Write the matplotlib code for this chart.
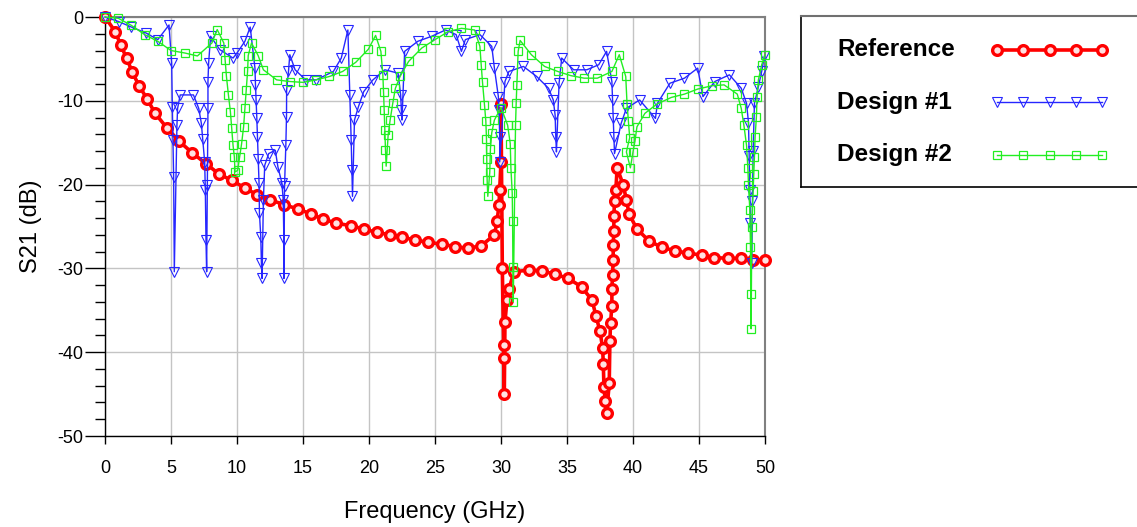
import numpy as np
import matplotlib
matplotlib.use("Agg")
import matplotlib.pyplot as plt

plt.rcParams['font.family'] = ['Liberation Sans', 'DejaVu Sans']
plt.rcParams['axes.unicode_minus'] = False

# ---------------- data ----------------
freq_ref = [0, 0.78, 1.2, 1.64, 2.07, 2.58, 3.2, 3.8, 4.67, 5.6, 6.6, 7.65, 8.6, 9.6,
            10.6, 11.5, 12.5, 13.56, 14.6, 15.6, 16.5, 17.5, 18.6, 19.6, 20.6, 21.6,
            22.5, 23.5, 24.5, 25.5, 26.5, 27.5, 28.5, 29.5, 29.7, 29.85, 29.9, 30.0,
            30.0, 30.1, 30.2, 30.2, 30.25, 30.3, 30.45, 30.6, 31.0, 32.1, 33.1, 34.1,
            35.1, 36.1, 36.9, 37.2, 37.5, 37.7, 37.75, 37.8, 37.9, 38.0, 38.2, 38.25,
            38.3, 38.4, 38.4, 38.45, 38.5, 38.5, 38.55, 38.55, 38.6, 38.7, 38.8, 39.25,
            39.5, 39.7, 40.3, 41.2, 42.2, 43.2, 44.2, 45.2, 46.1, 47.2, 48.2, 49.1, 50.0]
s21_ref = [0, -1.75, -3.4, -4.9, -6.6, -8.2, -9.8, -11.5, -13.2, -14.8, -16.2, -17.5, -18.7, -19.5,
           -20.4, -21.2, -21.8, -22.4, -22.9, -23.5, -24.1, -24.6, -24.9, -25.3, -25.7, -26.0,
           -26.3, -26.6, -26.9, -27.1, -27.4, -27.6, -27.3, -26.0, -24.4, -22.4, -20.6, -17.3,
           -10.4, -30.0, -39.1, -40.7, -45.0, -36.4, -33.8, -32.4, -30.4, -30.2, -30.3, -30.7,
           -31.2, -32.2, -33.8, -35.7, -37.5, -39.5, -41.4, -44.2, -45.8, -47.3, -43.7, -38.7,
           -36.5, -34.5, -32.5, -30.8, -29.0, -27.2, -25.5, -23.8, -22.0, -20.6, -18.0, -20.0,
           -21.8, -23.5, -25.3, -26.7, -27.5, -27.9, -28.2, -28.4, -28.7, -28.8, -28.8, -29.0, -29.0]

freq_d1 = [0, 1.06, 2.0, 3.1, 4.0, 4.85, 5.05, 5.1, 5.15, 5.2, 5.25, 5.45, 5.5, 5.7,
           6.7, 7.1, 7.3, 7.4, 7.55, 7.6, 7.65, 7.7, 7.75, 7.8, 7.8, 7.85, 8.0, 8.7, 9.7,
           10.0, 10.6, 11.0, 11.36, 11.4, 11.45, 11.5, 11.55, 11.6, 11.67, 11.7, 11.8,
           11.85, 11.9, 12.0, 12.1, 12.4, 12.9, 13.1, 13.4, 13.5, 13.55, 13.56, 13.6,
           13.7, 13.75, 13.76, 13.9, 14.0, 14.4, 15.2, 16.0, 17.3, 17.9, 18.4, 18.55,
           18.65, 18.7, 18.75, 18.9, 19.2, 19.6, 20.3, 21.2, 22.2, 22.4, 22.45, 22.5,
           22.7, 23.7, 24.75, 25.8, 26.6, 27.0, 27.3, 28.4, 29.3, 29.5, 29.8, 29.85,
           29.9, 29.9, 30.3, 30.6, 31.7, 32.7, 33.6, 33.96, 34.1, 34.15, 34.2, 34.4,
           34.6, 35.5, 36.5, 37.4, 38.0, 38.4, 38.45, 38.5, 38.55, 38.6, 39.1, 39.5,
           40.5, 41.7, 41.85, 42.8, 43.9, 44.9, 45.3, 46.2, 47.3, 48.2, 48.6, 48.75,
           48.8, 48.85, 48.9, 49.0, 49.05, 49.1, 49.2, 49.5, 49.75, 49.95]
s21_d1 = [0, -0.56, -1.2, -1.9, -2.7, -0.95, -5.5, -10.7, -14.7, -19.1, -30.4, -12.9, -10.9, -9.3,
          -9.3, -10.9, -12.7, -14.5, -17.3, -20.6, -26.6, -30.4, -20.0, -10.9, -7.7, -5.5, -2.3, -3.9, -4.9,
          -4.3, -2.9, -1.2, -6.1, -8.1, -9.9, -12.0, -14.3, -16.9, -19.8, -23.4, -26.2,
          -29.4, -31.2, -21.8, -17.7, -16.3, -15.9, -17.9, -19.8, -21.8, -26.6, -31.2, -20.2,
          -15.3, -11.9, -8.7, -6.5, -4.5, -6.3, -7.5, -7.5, -6.5, -4.9, -1.55, -9.3,
          -14.7, -18.3, -21.4, -12.3, -10.7, -8.9, -7.5, -6.3, -6.7, -9.3, -11.1, -12.3,
          -4.1, -2.9, -2.3, -1.55, -2.1, -4.1, -2.7, -2.1, -3.5, -6.1, -9.5, -11.1,
          -14.3, -17.3, -7.7, -6.5, -5.9, -7.1, -8.5, -9.9, -11.7, -14.3, -16.1, -7.9,
          -4.9, -6.3, -6.3, -5.7, -4.1, -7.7, -9.9, -12.1, -14.3, -16.3, -12.7, -10.9,
          -9.9, -12.1, -10.3, -7.9, -7.3, -6.1, -9.5, -7.7, -6.9, -8.5, -10.3, -12.6,
          -16.6, -20.6, -24.6, -29.4, -22.0, -16.0, -10.3, -8.3, -6.5, -4.7]

freq_d2 = [0, 1.0, 2.0, 3.0, 4.0, 5.0, 6.06, 7.0, 8.1, 8.5, 9.0, 9.1, 9.2, 9.35, 9.5,
           9.6, 9.7, 9.8, 9.85, 10.05, 10.2, 10.35, 10.5, 10.6, 10.7, 10.8, 10.85, 11.1,
           11.6, 12.0, 13.0, 14.0, 15.0, 16.0, 17.0, 18.0, 19.0, 19.95, 20.5, 20.9, 21.05,
           21.1, 21.15, 21.2, 21.25, 21.3, 21.45, 21.6, 21.8, 22.0, 22.35, 23.0, 24.0,
           25.0, 26.0, 27.0, 28.0, 28.4, 28.5, 28.6, 28.75, 28.85, 28.9, 28.92, 28.95,
           29.0, 29.15, 29.2, 29.3, 29.5, 30.0, 30.5, 30.7, 30.75, 30.85, 30.88, 30.9,
           30.93, 31.1, 31.15, 31.2, 31.3, 31.45, 32.3, 33.3, 34.3, 35.3, 36.3, 37.3,
           38.4, 38.96, 39.45, 39.55, 39.65, 39.75, 39.5, 39.8, 40.0, 40.15, 40.3, 40.9,
           41.8, 42.9, 43.9, 44.9, 46.0, 46.9, 47.9, 48.2, 48.4, 48.6, 48.7, 48.75,
           48.85, 48.9, 48.92, 48.95, 49.0, 49.1, 49.15, 49.2, 49.25, 49.35, 49.4, 49.5,
           49.75, 50.0]
s21_d2 = [0, -0.15, -1.0, -2.1, -2.9, -4.0, -4.3, -4.65, -3.1, -1.5, -3.1, -5.1, -7.1, -9.3, -11.3,
          -13.3, -15.3, -16.7, -18.5, -18.3, -16.7, -15.1, -13.1, -10.9, -8.7, -6.5, -4.6, -3.1,
          -4.6, -6.3, -7.5, -7.7, -7.8, -7.5, -7.1, -6.5, -5.4, -3.85, -2.2, -4.1, -6.9,
          -8.9, -11.1, -13.5, -15.9, -17.8, -14.1, -12.3, -10.3, -8.5, -7.1, -5.3, -3.7,
          -2.7, -1.75, -1.35, -1.55, -3.5, -5.7, -7.8, -10.5, -12.4, -14.5, -16.9, -19.5,
          -21.4, -18.5, -15.7, -13.8, -12.3, -10.8, -12.9, -15.1, -18.0, -21.0, -24.4, -29.8,
          -34.0, -12.9, -10.3, -8.1, -4.1, -2.8, -4.5, -5.9, -6.5, -7.0, -7.3, -7.3,
          -6.5, -4.5, -7.1, -10.4, -12.4, -14.4, -16.1, -18.0, -16.1, -14.8, -13.1, -11.5,
          -10.4, -9.6, -9.2, -8.6, -8.2, -8.1, -9.2, -10.9, -12.9, -15.3, -18.0, -20.0,
          -23.0, -27.4, -33.0, -37.2, -25.0, -20.8, -18.7, -16.7, -14.3, -11.9, -9.5, -7.5,
          -5.7, -4.5]

series_names = ['Reference', 'Design #1', 'Design #2']
x_ticks = [0, 5, 10, 15, 20, 25, 30, 35, 40, 45, 50]
y_ticks = [-50, -40, -30, -20, -10, 0]

assert len(freq_ref) == len(s21_ref)
assert len(freq_d1) == len(s21_d1)
assert len(freq_d2) == len(s21_d2)

# ---------------- styles ----------------
RED = '#ff0000'
BLUE = '#2626ff'
GREEN = '#22ee22'
styles = [
    dict(color=RED, lw=2.6, marker='o', ms=7.0, mfc='#ffe0e0', mec=RED, mew=2.4),
    dict(color=BLUE, lw=1.0, marker='v', ms=7.0, mfc='none', mec=BLUE, mew=0.8),
    dict(color=GREEN, lw=1.0, marker='s', ms=6.3, mfc='none', mec=GREEN, mew=0.9),
]

W, H = 1137, 527
fig = plt.figure(figsize=(W / 100, H / 100), dpi=100)
ax = fig.add_axes([105 / W, 1 - 436 / H, 660 / W, 419 / H])

data = [(freq_ref, s21_ref), (freq_d1, s21_d1), (freq_d2, s21_d2)]
for (fx, fy), st, name in zip(data, styles, series_names):
    ax.plot(fx, fy, label=name, clip_on=False, zorder=3, **st)

ax.set_xlim(0, 50)
ax.set_ylim(-50, 0)
ax.set_xticks(x_ticks)
ax.set_yticks(y_ticks)
ax.set_yticks(np.arange(-50, 1, 2), minor=True)
ax.grid(True, which='major', color='#c4c4c4', lw=1.0, zorder=0)
ax.set_axisbelow(True)
ax.tick_params(axis='x', direction='out', length=6, width=1, pad=11, labelsize=13)
ax.tick_params(axis='y', which='major', direction='out', length=14.5, width=1, pad=1, labelsize=13)
ax.tick_params(axis='y', which='minor', direction='out', length=7.2, width=1)
for s in ['bottom', 'left']:
    ax.spines[s].set_color('black')
    ax.spines[s].set_linewidth(1.0)
for s in ['top', 'right']:
    ax.spines[s].set_color('#808080')
    ax.spines[s].set_linewidth(1.5)

ax.set_xlabel('Frequency (GHz)', fontsize=17)
ax.set_ylabel('S21 (dB)', fontsize=17)
ax.xaxis.set_label_coords(0.5, -0.155)
ax.yaxis.set_label_coords(-0.096, 0.5)

# ---------------- legend box ----------------
lax = fig.add_axes([801 / W, 1 - 187 / H, 336 / W, 171 / H])
lax.set_xlim(0, 336)
lax.set_ylim(171, 0)
lax.set_xticks([])
lax.set_yticks([])
lax.spines['right'].set_visible(False)
lax.spines['top'].set_color('#707070')
lax.spines['top'].set_linewidth(1.5)
for s in ['left', 'bottom']:
    lax.spines[s].set_color('black')
    lax.spines[s].set_linewidth(1.2)
rows_y = [34, 86, 139]
mx = np.linspace(196, 301, 5)
for name, st, ry in zip(series_names, styles, rows_y):
    lax.text(36, ry, name, fontsize=17.5, fontweight='bold', va='center', ha='left')
    lax.plot(mx, [ry] * len(mx), clip_on=False, **st)

fig.savefig('out.png', dpi=100)
